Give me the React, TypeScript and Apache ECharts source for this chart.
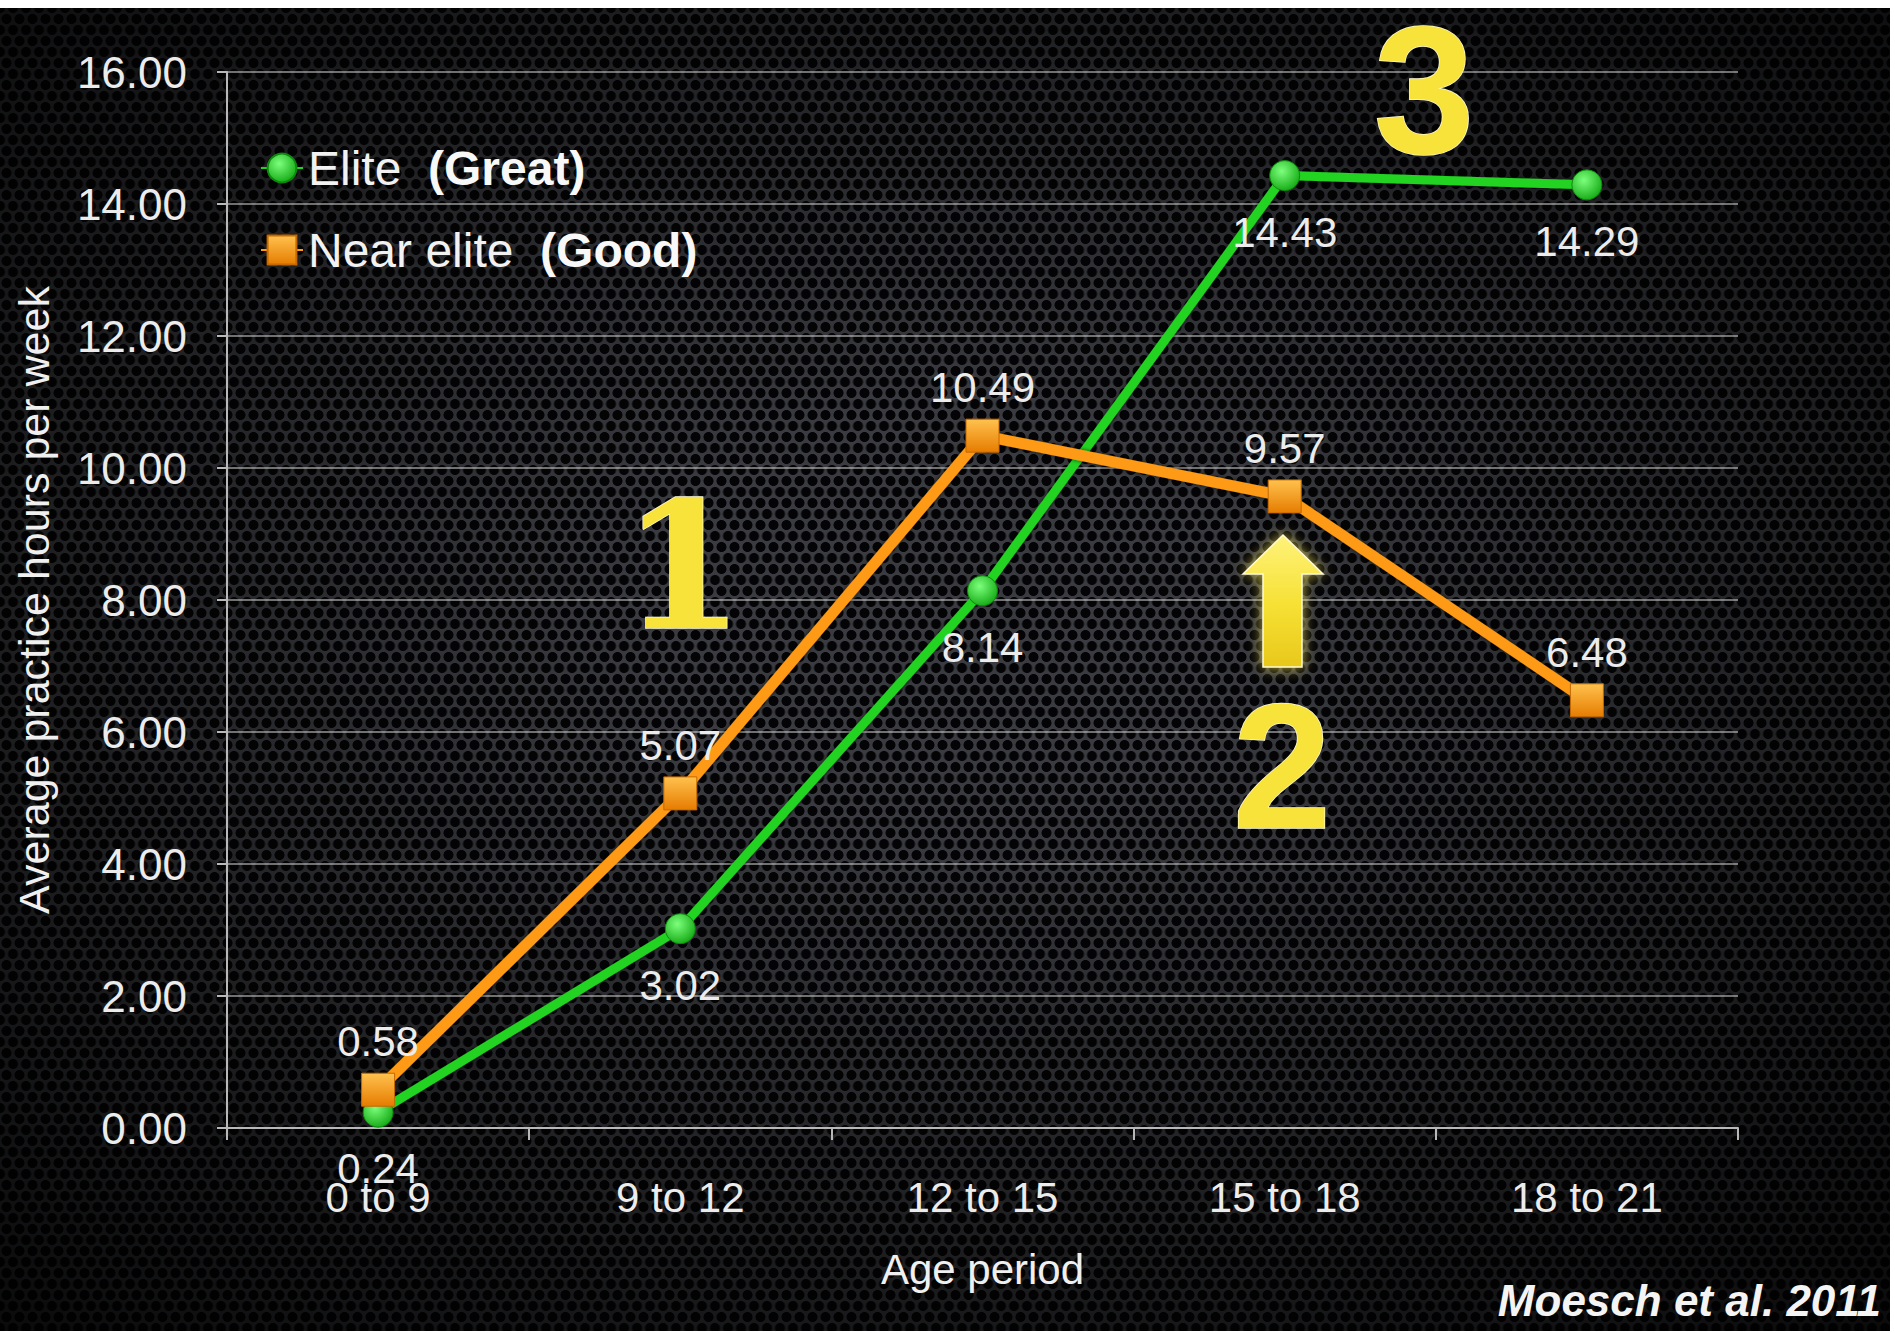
import React, { useEffect, useRef } from "react";
import * as echarts from "echarts";

// Weekly practice hours by age period (Moesch et al. 2011)
const ageCategories = ["0 to 9", "9 to 12", "12 to 15", "15 to 18", "18 to 21"];
const eliteHours = [0.24, 3.02, 8.14, 14.43, 14.29];
const nearEliteHours = [0.58, 5.07, 10.49, 9.57, 6.48];
const seriesNames = ["Elite", "Near elite"];
const seriesQualifiers = ["(Great)", "(Good)"];
const yMin = 0;
const yMax = 16;
const yStep = 2;

const FONT = "'Liberation Sans', Arial, Helvetica, sans-serif";
const TEXT = "#ececec";
const AXIS = "#b8b8b8";

// perforated-metal backdrop with a dark vignette
const panelBackground = [
  "radial-gradient(ellipse 80% 78% at 50% 46%, rgba(0,0,0,0) 20%, rgba(0,0,0,0.6) 70%, rgba(0,0,0,0.88) 100%)",
  "radial-gradient(circle at center, #040406 0 4.6px, rgba(4,4,6,0) 5.4px) 0 0 / 13px 22px",
  "radial-gradient(circle at center, #040406 0 4.6px, rgba(4,4,6,0) 5.4px) 6.5px 11px / 13px 22px",
  "#3a3b40",
].join(", ");

const YELLOW = "#f7e33a";

const glow = {
  shadowBlur: 14,
  shadowColor: "rgba(255, 236, 90, 0.75)",
};

function bigDigit(text: string, x: number, y: number, size: number, family: string) {
  return {
    type: "text",
    x,
    y,
    z: 100,
    style: {
      text,
      fontSize: size,
      lineHeight: Math.round(size * 0.8),
      fontFamily: family,
      fontWeight: "bold",
      fill: YELLOW,
      stroke: "#fffbd4",
      lineWidth: 1.5,
      align: "center",
      verticalAlign: "middle",
      ...glow,
    },
  };
}

export default function App() {
  const ref = useRef<HTMLDivElement>(null);

  useEffect(() => {
    document.body.style.margin = "0";
    if (!ref.current) return;
    const chart = echarts.init(ref.current, null, { renderer: "svg" });

    const option = {
      animation: false,
      backgroundColor: "transparent",
      grid: { left: 227, right: 157, top: 72, bottom: 205 },
      legend: {
        orient: "vertical",
        left: 260,
        top: 144,
        itemGap: 34,
        itemWidth: 42,
        itemHeight: 36,
        padding: 0,
        data: seriesNames,
        formatter: (name: string) => {
          const i = seriesNames.indexOf(name);
          return `{n|${name}  }{b|${seriesQualifiers[i]}}`;
        },
        textStyle: {
          color: "#f2f2f2",
          fontSize: 48,
          fontFamily: FONT,
          rich: {
            n: { fontSize: 48, fontFamily: FONT, color: "#f2f2f2" },
            b: { fontSize: 48, fontFamily: FONT, color: "#f8f8f8", fontWeight: "bold" },
          },
        },
      },
      xAxis: {
        type: "category",
        data: ageCategories,
        boundaryGap: true,
        axisLine: { lineStyle: { color: AXIS, width: 2 } },
        axisTick: { show: true, length: 12, lineStyle: { color: AXIS, width: 2 } },
        axisLabel: { color: TEXT, fontSize: 42, fontFamily: FONT, margin: 48 },
        name: "Age period",
        nameLocation: "middle",
        nameGap: 120,
        nameTextStyle: { color: "#f0f0f0", fontSize: 42, fontFamily: FONT },
      },
      yAxis: {
        type: "value",
        min: yMin,
        max: yMax,
        interval: yStep,
        axisLine: { show: true, lineStyle: { color: AXIS, width: 2 } },
        axisTick: { show: true, length: 10, lineStyle: { color: AXIS, width: 2 } },
        axisLabel: {
          color: TEXT,
          fontSize: 44,
          fontFamily: FONT,
          margin: 40,
          formatter: (v: number) => v.toFixed(2),
        },
        splitLine: { lineStyle: { color: "rgba(200,200,200,0.75)", width: 1.5 } },
        name: "Average practice hours per week",
        nameLocation: "middle",
        nameGap: 172,
        nameTextStyle: { color: "#f0f0f0", fontSize: 43, fontFamily: FONT },
      },
      series: [
        {
          name: seriesNames[0],
          type: "line",
          data: eliteHours,
          symbol: "circle",
          symbolSize: 30,
          lineStyle: {
            color: "#22d322",
            width: 9,
            shadowColor: "rgba(0,0,0,0.7)",
            shadowBlur: 4,
          },
          itemStyle: {
            color: new echarts.graphic.RadialGradient(0.4, 0.35, 0.7, [
              { offset: 0, color: "#7dff7d" },
              { offset: 1, color: "#12a812" },
            ]),
            borderColor: "#0c8a0c",
            borderWidth: 1,
          },
          label: {
            show: true,
            position: "bottom",
            distance: 20,
            color: TEXT,
            fontSize: 42,
            fontFamily: FONT,
            formatter: (p: any) => Number(p.value).toFixed(2),
          },
          emphasis: { disabled: true },
        },
        {
          name: seriesNames[1],
          type: "line",
          data: nearEliteHours,
          symbol: "rect",
          symbolSize: 33,
          lineStyle: {
            color: "#ff9a12",
            width: 11,
            shadowColor: "rgba(0,0,0,0.7)",
            shadowBlur: 4,
          },
          itemStyle: {
            color: new echarts.graphic.LinearGradient(0, 0, 0, 1, [
              { offset: 0, color: "#ffc24e" },
              { offset: 1, color: "#e67c00" },
            ]),
            borderColor: "#c46800",
            borderWidth: 1,
          },
          label: {
            show: true,
            position: "top",
            distance: 10,
            color: TEXT,
            fontSize: 42,
            fontFamily: FONT,
            formatter: (p: any) => Number(p.value).toFixed(2),
          },
          emphasis: { disabled: true },
        },
      ],
      graphic: [
        bigDigit("1", 683, 566, 176, "'DejaVu Serif', serif"),
        bigDigit("2", 1282, 766, 178, FONT),
        bigDigit("3", 1424, 90, 182, FONT),
        {
          type: "polygon",
          z: 100,
          shape: {
            points: [
              [1283, 535],
              [1323, 574],
              [1302, 574],
              [1302, 667],
              [1263, 667],
              [1263, 574],
              [1243, 574],
            ],
          },
          style: {
            fill: new echarts.graphic.LinearGradient(0, 0, 0, 1, [
              { offset: 0, color: "#fff27a" },
              { offset: 0.55, color: "#f6e032" },
              { offset: 1, color: "#e8c81c" },
            ]),
            stroke: "#fffbd4",
            lineWidth: 1.5,
            ...glow,
          },
        },
        {
          type: "text",
          right: 14,
          top: 1278,
          z: 100,
          style: {
            text: "Moesch et al. 2011",
            fontSize: 44,
            fontFamily: FONT,
            fontWeight: "bold",
            fontStyle: "italic",
            fill: "#f4f4f4",
          },
        },
      ],
    };

    chart.setOption(option as any);
    return () => chart.dispose();
  }, []);

  return (
    <div style={{ position: "relative", width: 1895, height: 1333, background: "#ffffff", overflow: "hidden" }}>
      <div
        style={{
          position: "absolute",
          left: 0,
          top: 8,
          width: 1890,
          height: 1323,
          background: panelBackground,
        }}
      />
      <div ref={ref} style={{ position: "absolute", left: 0, top: 0, width: 1895, height: 1333 }} />
    </div>
  );
}
